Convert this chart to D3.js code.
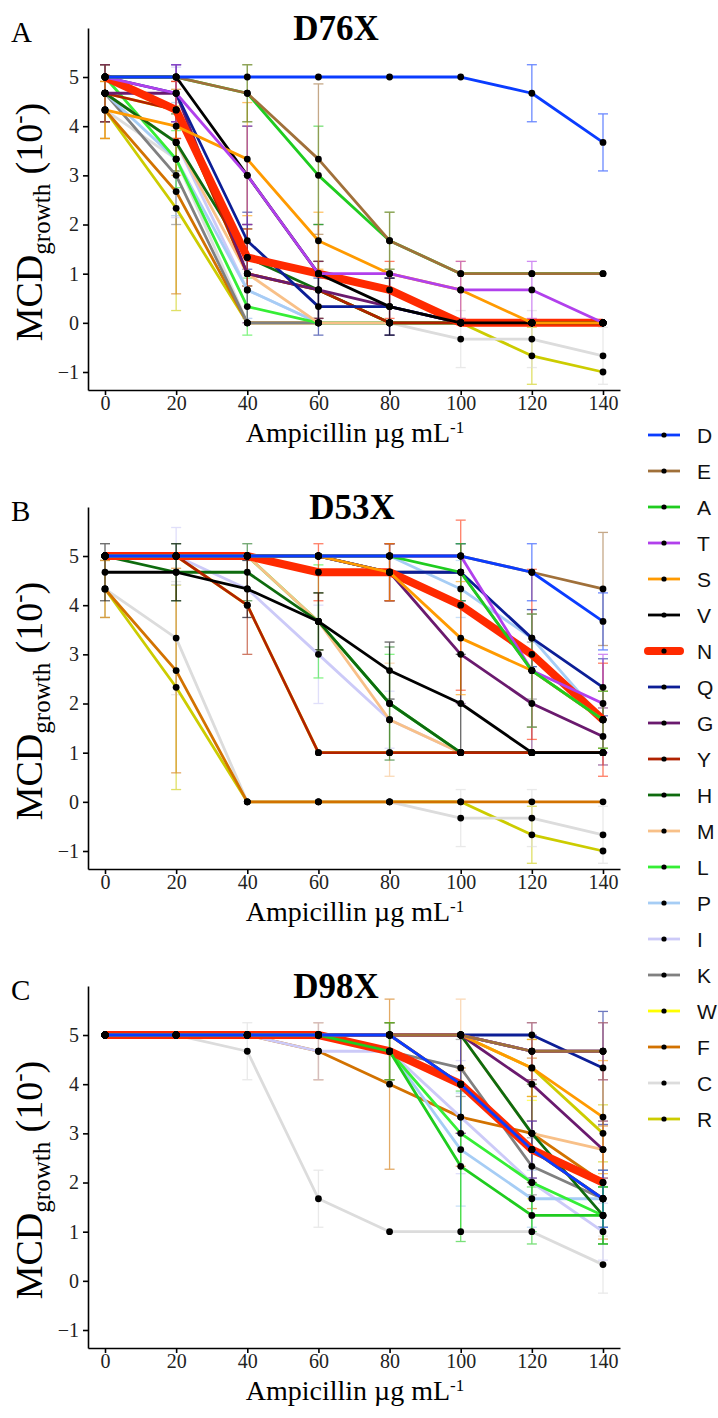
<!DOCTYPE html>
<html><head><meta charset="utf-8">
<script src="https://cdn.jsdelivr.net/npm/d3@7"></script>
<style>body{margin:0;background:#fff}svg{display:block}</style>
</head><body>
<script>
const doses = [0,20,40,60,80,100,120,140];
const mutants = ["D","E","A","T","S","V","N","Q","G","Y","H","M","L","P","I","K","W","F","C","R"];
const colors = ["#0a3cff","#a0703a","#1fcc1f","#b140ec","#ff9a00","#000000","#ff2a00","#0c1e96","#6a1a6e","#b02200","#0e6b0e","#f8c088","#35ee35","#a6cdf5","#cccaf8","#808080","#ffff00","#d27200","#dcdcdc","#cccc00"];
const panelTitles = ["D76X","D53X","D98X"];
const panelTags = ["A","B","C"];
const yTicks = [-1,0,1,2,3,4,5];

// D76X mean values, order = mutants
const valuesA = [
 [5,5,5,5,5,5,4.67,3.67],
 [5,5,4.67,3.33,1.67,1,1,1],
 [5,5,4.67,3,1.67,1,1,1],
 [5,4.67,3,1,1,0.67,0.67,0],
 [4.33,4,3.33,1.67,1,0.67,0,0],
 [5,5,3,1,0.33,0,0,0],
 [5,4.33,1.33,1,0.67,0,0,0],
 [5,4.67,1.67,0.33,0.33,0,0,0],
 [4.67,4.67,1,0.67,0.33,0,0,0],
 [4.67,4.33,1,0.67,0,0,0,0],
 [4.67,3.67,1.33,0.67,0,0,0,0],
 [4.67,3.67,1,0,0,0,0,0],
 [5,3.33,0.33,0,0,0,0,0],
 [4.67,3.33,0.67,0,0,0,0,0],
 [4.67,3.67,0.67,0,0,0,0,0],
 [4.67,3,0,0,0,0,0,0],
 [4.67,4.33,1,0.67,0,0,0,0],
 [4.33,2.67,0,0,0,0,0,0],
 [4.33,3.33,0,0,0,-0.33,-0.33,-0.67],
 [4.33,2.33,0,0,0,0,-0.67,-1]
];
const errorsA = [
 [0,0,0,0,0,0,0.58,0.58],
 [0,0,0.58,1.53,0.58,0,0,0],
 [0,0,0.58,1,0.58,0,0,0],
 [0,0.58,1,0,0,0.58,0.58,0],
 [0.58,1,1.15,0.58,0,0.58,0,0],
 [0,0,1,1,0.58,0,0,0],
 [0,0.58,0.58,0,0.58,0,0,0],
 [0,0.58,0.58,0.58,0.58,0,0,0],
 [0.58,0.58,1,0.58,0.58,0,0,0],
 [0.58,0.58,0,0.58,0,0,0,0],
 [0.58,0.58,0.58,0.58,0,0,0,0],
 [0.58,0.58,0,0,0,0,0,0],
 [0,0.58,0.58,0,0,0,0,0],
 [0.58,1.15,0.58,0,0,0,0,0],
 [0.58,1.53,0.58,0,0,0,0,0],
 [0.58,1,0,0,0,0,0,0],
 [0,0,0,0,0,0,0,0],
 [0.58,2.08,0,0,0,0,0,0],
 [0.58,1.15,0,0,0,0.58,0.58,0.58],
 [0.58,2.08,0,0,0,0,0.58,0]
];
// D53X
const valuesB = [
 [5,5,5,5,5,5,4.67,3.67],
 [5,5,5,5,5,5,4.67,4.33],
 [5,5,5,5,5,4.67,2.67,1.67],
 [5,5,5,5,5,5,2.67,2],
 [5,5,5,5,4.67,3.33,2.67,1.67],
 [4.67,4.67,4.33,3.67,2.67,2,1,1],
 [5,5,5,4.67,4.67,4,3,1.67],
 [5,5,5,5,4.67,4.67,3.33,2.33],
 [5,5,5,5,4.67,3,2,1.33],
 [5,5,4,1,1,1,1,1],
 [5,4.67,4.67,3.67,2,1,1,1],
 [5,5,5,3.67,1.67,1,1,1],
 [5,5,5,3.67,2,1,1,1],
 [5,5,5,5,5,4.33,3.33,1.67],
 [5,5,4.33,3,1.67,1,1,1],
 [5,5,5,5,4.67,4.67,2.67,1.67],
 [5,5,4,1,1,1,1,1],
 [4.33,2.67,0,0,0,0,0,0],
 [4.33,3.33,0,0,0,-0.33,-0.33,-0.67],
 [4.33,2.33,0,0,0,0,-0.67,-1]
];
const errorsB = [
 [0,0,0,0,0,0,0.58,0.58],
 [0,0,0,0,0,0,0,1.15],
 [0,0,0,0,0,0.58,1.15,0.58],
 [0,0,0,0,0,0,1.15,1],
 [0,0,0,0,0.58,1.15,1.15,0.58],
 [0.58,0.58,0.58,0.58,0.58,1,0,0],
 [0,0,0,0.58,0.58,1.73,1.73,1.15],
 [0,0,0,0,0.58,0.58,0.58,0.58],
 [0,0,0,0,0.58,1,1,0.58],
 [0,0,1,0,0,0,0,0],
 [0,0.58,0.58,0.58,1.15,0,0,0],
 [0,0,0,0.58,1.15,0,0,0],
 [0,0,0,1.15,1,0,0,0],
 [0,0,0,0,0,0.58,0.58,0.58],
 [0,0.58,0.58,1,0.58,0,0,0],
 [0,0,0,0,0.58,0.58,0.58,0.58],
 [0,0,0,0,0,0,0,0],
 [0.58,2.08,0,0,0,0,0,0],
 [0.58,1.15,0,0,0,0.58,0.58,0.58],
 [0.58,2.08,0,0,0,0,0.58,0]
];
// D98X
const valuesC = [
 [5,5,5,5,5,4,2.67,1.67],
 [5,5,5,5,5,5,4.67,4.67],
 [5,5,5,5,4.67,2.33,1.33,1.33],
 [5,5,5,5,5,5,4.67,4.67],
 [5,5,5,5,5,5,4.33,3.33],
 [5,5,5,5,5,5,4.67,4.67],
 [5,5,5,5,4.67,4,2.67,2],
 [5,5,5,5,5,5,5,4.33],
 [5,5,5,5,5,5,4,2.67],
 [5,5,5,5,5,4,2.67,1.67],
 [5,5,5,5,5,5,3,1.33],
 [5,5,5,5,5,5,3,2.67],
 [5,5,5,5,4.67,3,2,1.33],
 [5,5,5,5,4.67,2.67,1.67,1.67],
 [5,5,5,4.67,4.67,3.33,2,1],
 [5,5,5,5,4.67,4.33,2.33,1.67],
 [5,5,5,5,5,4,2.67,1.67],
 [5,5,5,4.67,4,3.33,3,2],
 [5,5,4.67,1.67,1,1,1,0.33],
 [5,5,5,5,5,5,4.33,3]
];
const errorsC = [
 [0,0,0,0,0,1,0.58,0.58],
 [0,0,0,0,0,0,0.58,0.58],
 [0,0,0,0,0.58,1.53,0.58,0.58],
 [0,0,0,0,0,0,0.58,0.58],
 [0,0,0,0,0,0,0.58,1.15],
 [0,0,0,0,0,0,0,0],
 [0,0,0,0,0.58,1,0.58,0],
 [0,0,0,0,0,0,0,1.15],
 [0,0,0,0,0,0,1,0.58],
 [0,0,0,0,0,0,0,0],
 [0,0,0,0,0,0,1,0.58],
 [0,0,0,0,0,0.73,1,0.58],
 [0,0,0,0,0.58,2,1,0.58],
 [0,0,0,0,0.58,1.15,0.58,0.58],
 [0,0,0,0.58,0.58,1.15,1,0.58],
 [0,0,0,0,0.58,0.58,0.58,0.58],
 [0,0,0,0,0,1,1,0.58],
 [0,0,0,0.58,1.73,1,1.53,1.15],
 [0,0,0.58,0.58,0,0,0,0.58],
 [0,0,0,0,0,0,0.58,0.58]
];

const panels = [
  {values: valuesA, errors: errorsA},
  {values: valuesB, errors: errorsB},
  {values: valuesC, errors: errorsC}
];
const panelOffset = [0, 479, 958];
const titleCenter = [336, 352, 336];

const svg = d3.select("body").append("svg").attr("width",718).attr("height",1418);
const serif = "'Liberation Serif','Times New Roman',serif";
const sans = "'Liberation Sans',Arial,sans-serif";

const x = d3.scaleLinear().domain([-4.78,144.78]).range([88,620]);
const y = d3.scaleLinear().domain([-1.366,5.997]).range([390,28]);
const line = d3.line().x((d,i)=>x(doses[i])).y(d=>y(d));

panels.forEach((p,pi)=>{
  const g = svg.append("g").attr("transform",`translate(0,${panelOffset[pi]})`);
  const ya = g.append("g").attr("transform","translate(88,0)")
    .call(d3.axisLeft(y).tickValues(yTicks).tickSize(5).tickSizeOuter(0).tickFormat(d3.format("d")));
  const xa = g.append("g").attr("transform","translate(0,390)")
    .call(d3.axisBottom(x).tickValues(doses).tickSize(5).tickSizeOuter(0));
  [ya,xa].forEach(a=>{
    a.select(".domain").attr("stroke","#000").attr("stroke-width",1.6);
    a.selectAll(".tick line").attr("stroke","#000").attr("stroke-width",1.6);
    a.selectAll(".tick text").attr("font-family",serif).attr("font-size",20).attr("fill","#222");
  });
  ya.selectAll(".tick text").attr("x",-9);
  xa.selectAll(".tick text").attr("y",6);

  const order = d3.range(mutants.length).reverse();
  const eg = g.append("g");
  order.forEach(si=>{
    p.values[si].forEach((v,i)=>{
      const e = p.errors[si][i];
      if(!e) return;
      const cx = x(doses[i]);
      const b = eg.append("g").attr("stroke",colors[si]).attr("stroke-width",1.3).attr("opacity",0.6);
      b.append("line").attr("x1",cx).attr("x2",cx).attr("y1",y(v+e)).attr("y2",y(v-e));
      b.append("line").attr("x1",cx-5).attr("x2",cx+5).attr("y1",y(v+e)).attr("y2",y(v+e));
      b.append("line").attr("x1",cx-5).attr("x2",cx+5).attr("y1",y(v-e)).attr("y2",y(v-e));
    });
  });
  const lg = g.append("g");
  order.forEach(si=>{
    lg.append("path").datum(p.values[si]).attr("d",line)
      .attr("fill","none").attr("stroke",colors[si])
      .attr("stroke-width", mutants[si]==="N"?8:2.8)
      .attr("stroke-linejoin","round").attr("stroke-linecap","butt");
  });
  const pg = g.append("g");
  order.forEach(si=>{
    p.values[si].forEach((v,i)=>{
      pg.append("circle").attr("cx",x(doses[i])).attr("cy",y(v)).attr("r",3.4).attr("fill","#000");
    });
  });
  g.append("text").attr("x",titleCenter[pi]).attr("y",40).attr("text-anchor","middle")
    .attr("font-family",serif).attr("font-weight","bold").attr("font-size",35).text(panelTitles[pi]);
  g.append("text").attr("x",11).attr("y",42)
    .attr("font-family",serif).attr("font-size",29).text(panelTags[pi]);
  const xt = g.append("text").attr("x",355).attr("y",442).attr("text-anchor","middle")
    .attr("font-family",serif).attr("font-size",28);
  xt.append("tspan").text("Ampicillin \u00b5g mL");
  xt.append("tspan").attr("font-size",17).attr("dy",-9).text("-1");
  const yt = g.append("g").attr("transform","translate(42,222) rotate(-90)")
    .append("text").attr("text-anchor","middle")
    .attr("font-family",serif).attr("font-size",38);
  yt.append("tspan").text("MCD");
  yt.append("tspan").attr("font-size",25).attr("dy",8).text("growth");
  yt.append("tspan").attr("dy",-8).text(" (10");
  yt.append("tspan").attr("font-size",25).attr("dy",-15).text("-");
  yt.append("tspan").attr("dy",15).text(")");
});

const leg = svg.append("g");
mutants.forEach((m,i)=>{
  const yy = 435 + i*36;
  leg.append("line").attr("x1",648).attr("x2",680).attr("y1",yy).attr("y2",yy)
    .attr("stroke",colors[i]).attr("stroke-width", m==="N"?8:2.8).attr("stroke-linecap", m==="N"?"round":"butt");
  leg.append("circle").attr("cx",664).attr("cy",yy).attr("r",2.6).attr("fill","#000");
  leg.append("text").attr("x",697).attr("y",yy+7.5).attr("font-family",sans).attr("font-size",21).attr("fill","#111").text(m);
});
</script>
</body></html>
